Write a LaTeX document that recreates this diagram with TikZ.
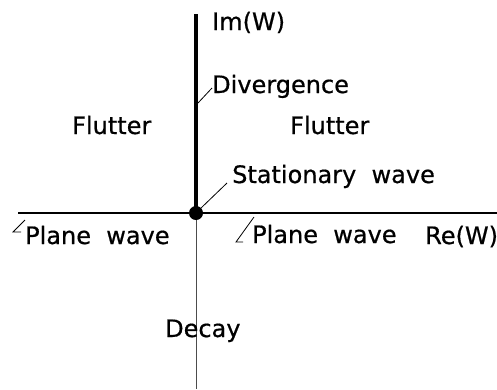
\documentclass[tikz,border=0pt]{standalone}
\usepackage{fontspec}
\setmainfont[FakeBold=0.6,AutoFakeBold=0.6]{DejaVu Sans}
\begin{document}
\begin{tikzpicture}[x=1pt,y=-1pt,
  lbl/.style={anchor=base west,inner sep=0pt,font=\fontsize{24}{24}\selectfont\bfseries},
  leader/.style={line width=0.8pt},
  axis/.style={line width=2pt}]
\useasboundingbox (0,0) rectangle (497,389);
% axes
\coordinate (O) at (196,213);
\coordinate (top) at (196,14);
\coordinate (bot) at (196,389);
\coordinate (left) at (18,213);
\coordinate (right) at (497,213);
\draw[axis] (left) -- (right);
\draw[line width=0.8pt,black!70] (O) -- (bot);
\draw[line width=4pt] (top) -- (O);
\fill (O) circle (7);
% labels
\node[lbl] (im) at (212,30) {Im(W)};
\node[lbl] (div) at (212,93) {Divergence};
\node[lbl] (fl1) at (72,134) {Flutter};
\node[lbl] (fl2) at (290,134) {Flutter};
\node[lbl] (sw) at (232,183) {Stationary\ \ wave};
\node[lbl] (pw1) at (25,244) {Plane\ \ wave};
\node[lbl] (pw2) at (252,243) {Plane\ \ wave};
\node[lbl] (re) at (425,244) {Re(W)};
\node[lbl] (dec) at (165,337) {Decay};
% leaders
\coordinate (dv) at (198,103);
\coordinate (sv) at (200,209);
\draw[leader] (dv) -- (div.west|-0,88);
\draw[leader] (sv) -- (227,183);
\coordinate (h1) at (254,217);
\draw[leader] (h1) -- (236,242) -- (243,242);
\coordinate (h2) at (25,220);
\draw[leader] (h2) -- (13,232) -- (21,232);
\end{tikzpicture}
\end{document}
